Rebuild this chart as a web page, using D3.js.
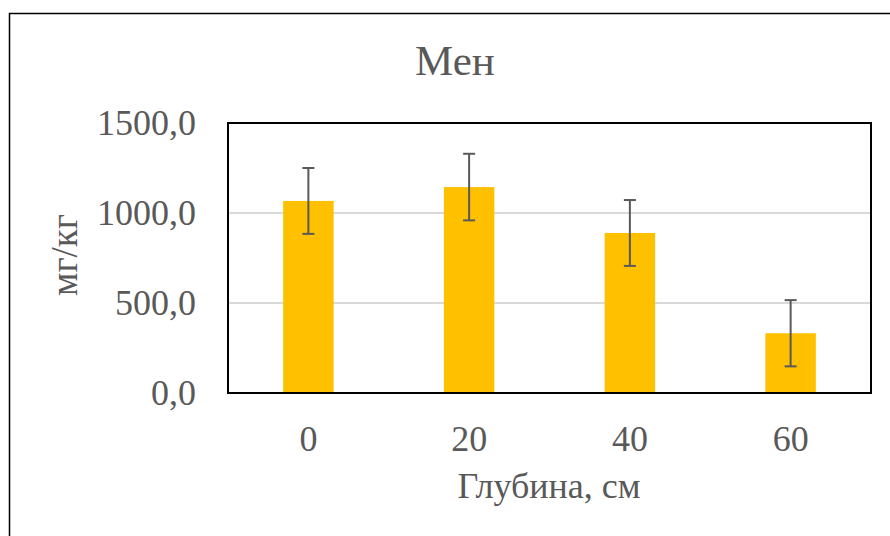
<!DOCTYPE html>
<html><head><meta charset="utf-8">
<script src="https://cdn.jsdelivr.net/npm/d3@7"></script>
<style>body{margin:0;background:#fff}svg{display:block}</style>
</head><body>
<svg id="c" width="890" height="536"></svg>
<script>
const categories = ["0", "20", "40", "60"];
const values = [1067, 1144, 889, 332];
const errors = [183, 185, 183, 184];
const yTicks = [0, 500, 1000, 1500];
const title = "Мен";
const xTitle = "Глубина, см";
const yTitle = "мг/кг";

const svg = d3.select("#c");
const font = "'Liberation Serif','Times New Roman',serif";
const m = {left: 228, right: 871, top: 123, bottom: 393};

svg.append("rect").attr("x", 9.5).attr("y", 13.5).attr("width", 1000).attr("height", 1000)
  .attr("fill", "#fff").attr("stroke", "#000").attr("stroke-width", 1.5);

const x = d3.scaleBand().domain(categories).range([m.left, m.right]).paddingInner(0.686).paddingOuter(0.343);
const y = d3.scaleLinear().domain([0, 1500]).range([m.bottom, m.top]);

// gridlines
svg.append("g").selectAll("line").data(yTicks.filter(t => t > 0 && t < 1500)).join("line")
  .attr("x1", m.left).attr("x2", m.right).attr("y1", d => y(d)).attr("y2", d => y(d))
  .attr("stroke", "#d9d9d9").attr("stroke-width", 2);

// bars
svg.append("g").selectAll("rect").data(values).join("rect")
  .attr("x", (d, i) => x(categories[i])).attr("width", x.bandwidth())
  .attr("y", d => y(d)).attr("height", d => y(0) - y(d)).attr("fill", "#ffc000");

// error bars
const eg = svg.append("g").attr("stroke", "#595959").attr("stroke-width", 2);
values.forEach((v, i) => {
  const cx = x(categories[i]) + x.bandwidth() / 2;
  eg.append("line").attr("x1", cx).attr("x2", cx).attr("y1", y(v + errors[i])).attr("y2", y(v - errors[i]));
  [v + errors[i], v - errors[i]].forEach(e => {
    eg.append("line").attr("x1", cx - 6).attr("x2", cx + 6).attr("y1", y(e)).attr("y2", y(e));
  });
});

// plot border
svg.append("rect").attr("x", m.left).attr("y", m.top).attr("width", m.right - m.left).attr("height", m.bottom - m.top)
  .attr("fill", "none").attr("stroke", "#000").attr("stroke-width", 2);

// y axis labels
const yAxis = d3.axisLeft(y).tickValues(yTicks).tickSize(0).tickPadding(32)
  .tickFormat(d => d3.format(".1f")(d).replace(".", ","));
const ya = svg.append("g").attr("transform", `translate(${m.left},0)`).call(yAxis);
ya.select(".domain").remove();
ya.selectAll("text").attr("font-family", font).attr("font-size", 36).attr("fill", "#595959");

// x axis labels
const xAxis = d3.axisBottom(x).tickSize(0).tickPadding(32);
const xa = svg.append("g").attr("transform", `translate(0,${m.bottom})`).call(xAxis);
xa.select(".domain").remove();
xa.selectAll("text").attr("font-family", font).attr("font-size", 36).attr("fill", "#595959");

// titles
svg.append("text").attr("x", 455).attr("y", 75).attr("text-anchor", "middle")
  .attr("font-family", font).attr("font-size", 43).attr("fill", "#595959").text(title);
svg.append("text").attr("x", 549).attr("y", 498).attr("text-anchor", "middle")
  .attr("font-family", font).attr("font-size", 36).attr("fill", "#595959").text(xTitle);
svg.append("text").attr("transform", "translate(77,255) rotate(-90)").attr("text-anchor", "middle")
  .attr("font-family", font).attr("font-size", 37).attr("fill", "#595959").text(yTitle);
</script>
</body></html>
